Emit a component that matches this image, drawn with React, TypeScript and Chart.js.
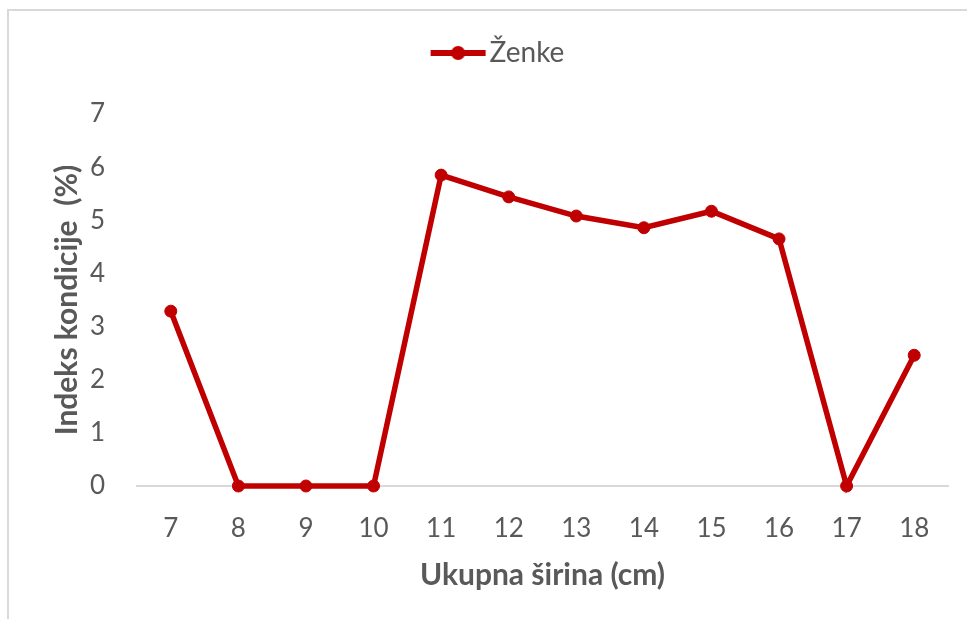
import React, { useEffect, useRef } from "react";
import { Chart, registerables } from "chart.js";

Chart.register(...registerables);

const categories = ["7", "8", "9", "10", "11", "12", "13", "14", "15", "16", "17", "18"];
const zenkeValues = [3.29, 0, 0, 0, 5.85, 5.44, 5.08, 4.86, 5.17, 4.65, 0, 2.46];
const seriesLabel = "Ženke";
const xTitle = "Ukupna širina (cm)";
const yTitle = "Indeks kondicije  (%)";

const RED = "#C00000";
const TEXT = "#595959";
const FONT = "Lato, 'Open Sans', sans-serif";

function makeLegendIcon(): HTMLCanvasElement {
  const c = document.createElement("canvas");
  c.width = 57;
  c.height = 16;
  const ctx = c.getContext("2d")!;
  ctx.strokeStyle = RED;
  ctx.lineWidth = 6;
  ctx.beginPath();
  ctx.moveTo(1, 8);
  ctx.lineTo(56, 8);
  ctx.stroke();
  ctx.fillStyle = RED;
  ctx.beginPath();
  ctx.arc(28.5, 8, 7, 0, Math.PI * 2);
  ctx.fill();
  return c;
}

const legendTweakPlugin = {
  id: "legendTweak",
  beforeInit(chart: any) {
    const legend = chart.legend;
    if (!legend) return;
    const origFit = legend.fit;
    legend.fit = function () {
      origFit.call(this);
      this.height = 103;
    };
    const origDraw = legend.draw;
    legend.draw = function () {
      const ctx = this.ctx;
      ctx.save();
      ctx.translate(24, 0);
      origDraw.call(this);
      ctx.restore();
    };
  },
};

export default function App() {
  const ref = useRef<HTMLCanvasElement | null>(null);

  useEffect(() => {
    document.body.style.margin = "0";
    document.body.style.overflow = "hidden";
    const icon = makeLegendIcon();
    const chart = new Chart(ref.current!, {
      type: "line",
      data: {
        labels: categories,
        datasets: [
          {
            label: seriesLabel,
            data: zenkeValues,
            borderColor: RED,
            backgroundColor: RED,
            borderWidth: 5.5,
            pointRadius: 6,
            pointBorderWidth: 1,
            pointBackgroundColor: RED,
            pointBorderColor: RED,
            tension: 0,
            clip: false,
          },
        ],
      },
      options: {
        animation: false,
        responsive: false,
        layout: { padding: { left: 0, right: 19, top: 0, bottom: 0 } },
        plugins: {
          tooltip: { enabled: false },
          legend: {
            position: "top",
            labels: {
              usePointStyle: true,
              pointStyleWidth: 35,
              padding: 28,
              color: TEXT,
              font: { family: FONT, size: 28 },
              generateLabels: (ch: any) => {
                const items = Chart.defaults.plugins.legend.labels.generateLabels(ch);
                return items.map((it: any) => ({ ...it, pointStyle: icon, fontColor: TEXT }));
              },
            },
          },
        },
        scales: {
          x: {
            type: "category",
            offset: true,
            grid: { display: false, drawTicks: false },
            border: { display: true, color: "#D9D9D9", width: 2 },
            ticks: {
              color: TEXT,
              padding: 27,
              font: { family: FONT, size: 26 },
              maxRotation: 0,
            },
            title: {
              display: true,
              text: xTitle,
              color: TEXT,
              font: { family: FONT, size: 30, weight: "bold" },
              padding: { top: 0, bottom: 26 },
            },
            afterFit: (scale: any) => {
              scale.height = 133;
            },
          },
          y: {
            min: 0,
            max: 7,
            grid: { display: false, drawTicks: false },
            border: { display: false },
            ticks: {
              stepSize: 1,
              color: TEXT,
              padding: 32,
              font: { family: FONT, size: 26 },
            },
            title: {
              display: true,
              text: yTitle,
              color: TEXT,
              font: { family: FONT, size: 30, weight: "bold" },
              padding: { top: 40, bottom: 0 },
            },
            afterFit: (scale: any) => {
              scale.width = 128;
            },
          },
        },
      },
      plugins: [legendTweakPlugin],
    });
    return () => chart.destroy();
  }, []);

  return (
    <div
      style={{
        position: "fixed",
        left: 7,
        top: 9,
        width: 958,
        height: 608,
        borderLeft: "2px solid #D9D9D9",
        borderTop: "2px solid #D9D9D9",
        background: "#fff",
      }}
    >
      <canvas ref={ref} width={958} height={608} style={{ display: "block" }} />
    </div>
  );
}
